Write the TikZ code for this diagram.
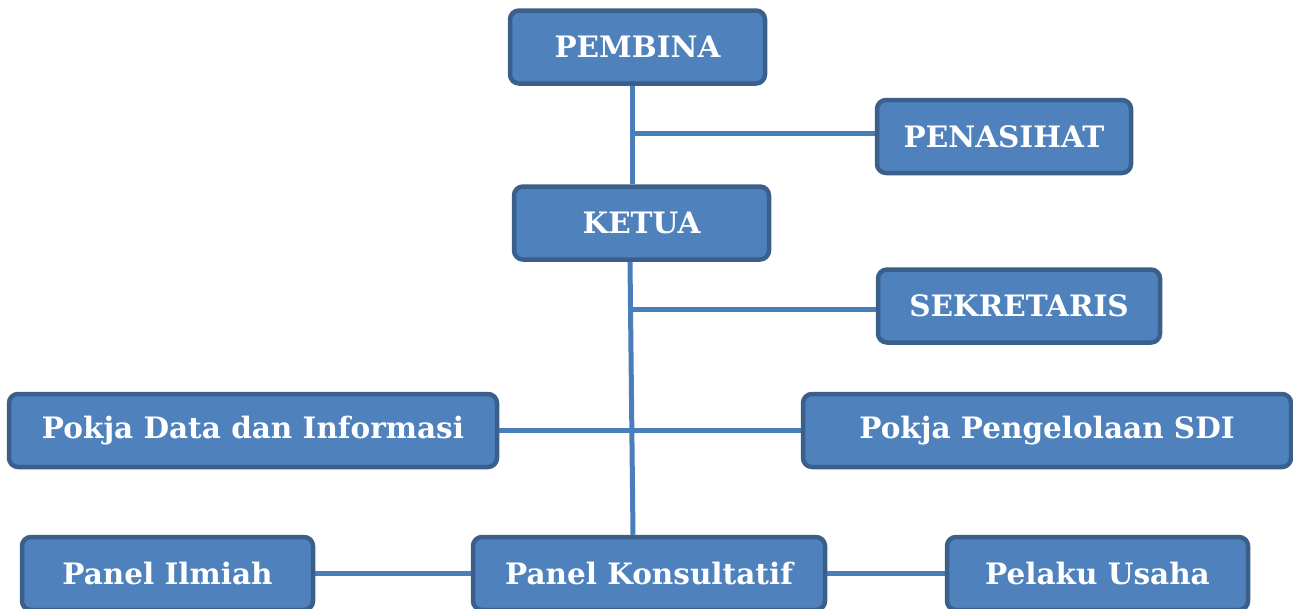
\documentclass[tikz,border=0pt]{standalone}
\usepackage{fontspec}
\setmainfont{DejaVu Serif}
\usetikzlibrary{backgrounds,calc}
\definecolor{boxfill}{HTML}{4F81BD}
\definecolor{boxedge}{HTML}{3A5F8B}
\definecolor{linkcol}{HTML}{4A7EBB}
\tikzset{
  orgbox/.style={draw=boxedge, fill=boxfill, line width=4.5pt, rounded corners=9pt,
    text=white, font=\fontsize{29.5}{34}\selectfont\bfseries, inner sep=0pt, minimum height=73pt},
  link/.style={draw=linkcol, line width=5pt}
}
\begin{document}
\begin{tikzpicture}[x=1pt,y=-1pt]
\useasboundingbox (0,0) rectangle (1293,608);
\clip (0,0) rectangle (1293,608);
\node[orgbox, minimum width=255pt] (pembina) at (637.5,47) {PEMBINA};
\node[orgbox, minimum width=254pt] (penasihat) at (1004,136.5) {PENASIHAT};
\node[orgbox, minimum width=255pt] (ketua) at (641.5,223) {KETUA};
\node[orgbox, minimum width=282pt] (sekretaris) at (1019,306) {SEKRETARIS};
\node[orgbox, minimum width=488pt] (pokjadata) at (253,430.5) {Pokja Data dan Informasi};
\node[orgbox, minimum width=488pt] (pokjasdi) at (1047,430.5) {Pokja Pengelolaan SDI};
\node[orgbox, minimum width=291pt] (ilmiah) at (167.5,573.5) {Panel Ilmiah};
\node[orgbox, minimum width=352pt] (konsul) at (649,573.5) {Panel Konsultatif};
\node[orgbox, minimum width=301pt] (pelaku) at (1097.5,573.5) {Pelaku Usaha};
\coordinate (j1) at (632,133);
\coordinate (j2) at (631,309);
\begin{scope}[on background layer]
  \draw[link] (j1 |- pembina.south) -- (j1 |- ketua.north);
  \draw[link] (j1) -- (j1 -| penasihat.west);
  \draw[link] ($(ketua.south)+(-11.5,0)$) -- ($(konsul.north)+(-16,0)$);
  \draw[link] (j2) -- (j2 -| sekretaris.west);
  \draw[link] (pokjadata.east) -- (pokjasdi.west);
  \draw[link] (ilmiah.east) -- (pelaku.west);
\end{scope}
\end{tikzpicture}
\end{document}
